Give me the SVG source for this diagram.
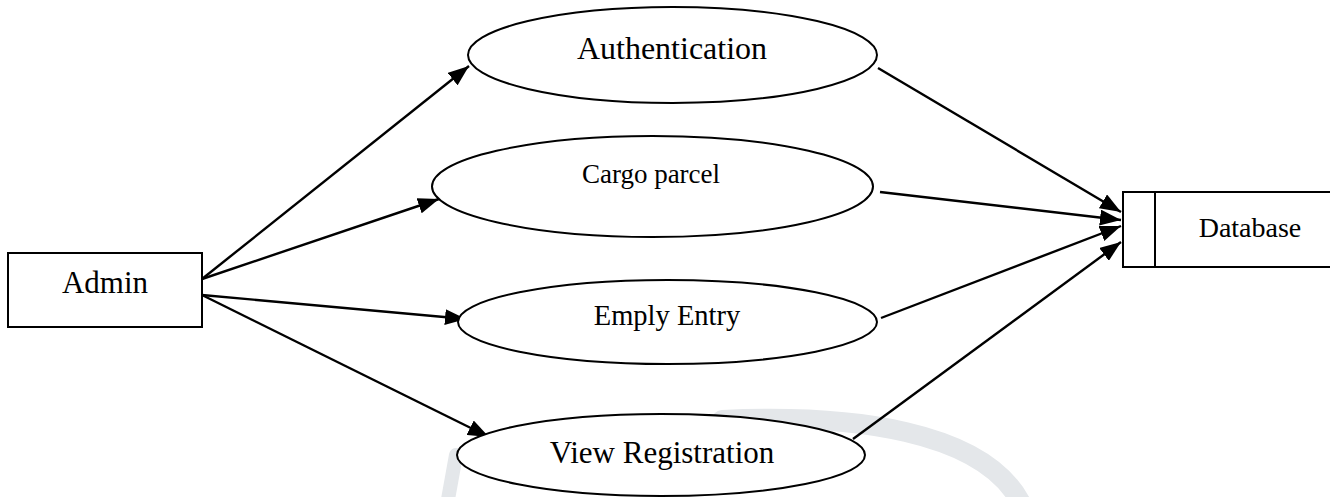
<svg xmlns="http://www.w3.org/2000/svg" width="1330" height="497" viewBox="0 0 1330 497">
<style>
.shape{fill:#fff;stroke:#000;stroke-width:2}
.lbl{font-family:"Liberation Serif","Times New Roman",serif;fill:#000;text-anchor:middle}
.conn{stroke:#000;stroke-width:2.4;fill:none;marker-end:url(#ah)}
.wm{fill:none;stroke:#e4e7ea;stroke-linecap:round}
</style>
<defs>
<marker id="ah" viewBox="0 0 10 10" refX="10" refY="5" markerWidth="21" markerHeight="16" markerUnits="userSpaceOnUse" orient="auto" preserveAspectRatio="none">
<path d="M0,0 L10,5 L0,10 Z" fill="#000"/>
</marker>
</defs>
<rect width="1330" height="497" fill="#fff"/>
<g id="watermark">
<path class="wm" stroke-width="20" d="M722 420 C850 414 985 430 1022 505"/>
<path class="wm" stroke-width="14" d="M447 505 L456 455"/>
</g>
<g id="connectors">
<line class="conn" x1="202" y1="279" x2="469" y2="66"/>
<line class="conn" x1="202" y1="279" x2="439" y2="199"/>
<line class="conn" x1="202" y1="295" x2="466" y2="319"/>
<line class="conn" x1="202" y1="295" x2="489" y2="437"/>
<line class="conn" x1="878" y1="68" x2="1121" y2="212"/>
<line class="conn" x1="880" y1="192" x2="1121" y2="220"/>
<line class="conn" x1="881" y1="318" x2="1121" y2="226"/>
<line class="conn" x1="853" y1="439" x2="1121" y2="242"/>
</g>
<g id="admin">
<rect class="shape" x="8" y="253" width="194" height="74"/>
<text class="lbl" x="105" y="293" font-size="31">Admin</text>
</g>
<g id="authentication">
<ellipse class="shape" cx="672.5" cy="55" rx="204.5" ry="48"/>
<text class="lbl" x="672" y="59" font-size="32">Authentication</text>
</g>
<g id="cargo-parcel">
<ellipse class="shape" cx="652.5" cy="186.5" rx="220.5" ry="50.5"/>
<text class="lbl" x="651" y="183" font-size="27">Cargo parcel</text>
</g>
<g id="emply-entry">
<ellipse class="shape" cx="667.5" cy="322" rx="209.5" ry="42"/>
<text class="lbl" x="667" y="325" font-size="28.5">Emply Entry</text>
</g>
<g id="view-registration">
<ellipse class="shape" cx="661" cy="455" rx="204" ry="41"/>
<text class="lbl" x="662" y="463" font-size="31">View Registration</text>
</g>
<g id="database">
<path class="shape" d="M1335 192 L1123 192 L1123 267 L1335 267"/>
<line x1="1155" y1="192" x2="1155" y2="267" stroke="#000" stroke-width="2"/>
<text class="lbl" x="1250" y="237" font-size="28">Database</text>
</g>
</svg>
